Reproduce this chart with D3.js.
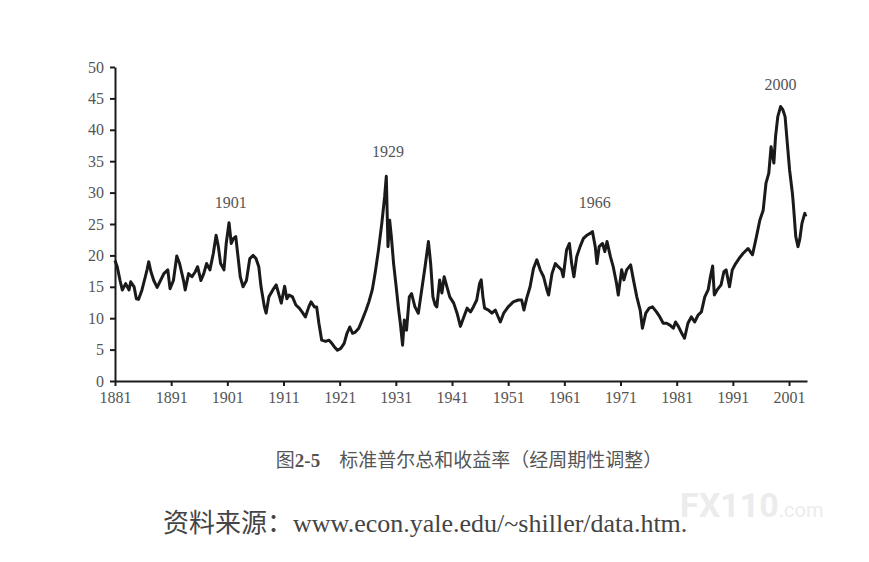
<!DOCTYPE html>
<html>
<head>
<meta charset="utf-8">
<script src="https://cdn.jsdelivr.net/npm/d3@7"></script>
<style>
  body { margin: 0; background: #fff; }
  svg { display: block; }
</style>
</head>
<body>
<svg id="chart" width="869" height="562"></svg>
<script>
// S&P composite, cyclically adjusted P/E
var years = [
  1881.0, 1881.4, 1881.9, 1882.3, 1882.9, 1883.5, 1883.8, 1884.4, 1884.8, 1885.2,
  1885.8, 1886.4, 1886.7, 1887.0, 1887.4, 1887.9, 1888.5, 1889.1, 1889.7, 1890.4,
  1890.8, 1891.4, 1892.0, 1892.5, 1893.2, 1893.5, 1894.1, 1894.7, 1895.3, 1895.7,
  1896.3, 1896.8, 1897.3, 1897.9, 1898.5, 1899.0, 1899.4, 1899.8, 1900.4, 1900.8,
  1901.3, 1901.7, 1902.1, 1902.5, 1902.9, 1903.3, 1903.8, 1904.4, 1905.0, 1905.6,
  1906.1, 1906.6, 1907.0, 1907.6, 1907.9, 1908.4, 1909.1, 1909.7, 1910.3, 1910.6,
  1911.2, 1911.6, 1912.0, 1912.6, 1913.2, 1913.8, 1914.3, 1914.9, 1915.5, 1915.9,
  1916.5, 1916.9, 1917.3, 1917.8, 1918.5, 1919.1, 1919.6, 1920.0, 1920.6, 1921.2,
  1921.8, 1922.3, 1922.8, 1923.3, 1923.8, 1924.4, 1925.0, 1925.7, 1926.2, 1926.8,
  1927.3, 1927.9, 1928.5, 1929.0, 1929.3, 1929.6, 1929.9, 1930.2, 1930.6, 1931.0,
  1931.5, 1931.8, 1932.2, 1932.5, 1932.9, 1933.4, 1933.8, 1934.4, 1935.0, 1935.6,
  1936.2, 1936.8, 1937.2, 1937.6, 1938.0, 1938.3, 1938.8, 1939.2, 1939.6, 1940.1,
  1940.6, 1941.3, 1941.9, 1942.5, 1943.1, 1943.7, 1944.3, 1944.8, 1945.4, 1945.9,
  1946.2, 1946.5, 1946.8, 1947.5, 1948.1, 1948.7, 1949.6, 1950.2, 1951.0, 1951.9,
  1952.8, 1953.4, 1953.8, 1954.3, 1954.9, 1955.5, 1956.1, 1956.7, 1957.3, 1957.9,
  1958.2, 1958.8, 1959.4, 1959.9, 1960.5, 1960.8, 1961.4, 1961.9, 1962.3, 1962.7,
  1963.2, 1963.8, 1964.4, 1965.0, 1965.6, 1966.0, 1966.5, 1966.8, 1967.2, 1967.8,
  1968.2, 1968.6, 1969.2, 1969.7, 1970.3, 1970.6, 1971.2, 1971.6, 1972.1, 1972.8,
  1973.3, 1973.9, 1974.5, 1974.9, 1975.5, 1976.1, 1976.7, 1977.4, 1978.0, 1978.6,
  1979.2, 1979.8, 1980.4, 1980.8, 1981.3, 1981.9, 1982.4, 1983.0, 1983.6, 1984.2,
  1984.8, 1985.4, 1986.0, 1986.6, 1987.0, 1987.4, 1987.7, 1988.2, 1988.9, 1989.4,
  1989.8, 1990.4, 1990.9, 1991.5, 1992.1, 1992.8, 1993.7, 1994.5, 1995.2, 1995.8,
  1996.4, 1996.9, 1997.4, 1997.8, 1998.3, 1998.6, 1999.0, 1999.5, 1999.9, 2000.3,
  2000.7, 2001.1, 2001.6, 2001.8, 2002.2, 2002.6, 2002.9, 2003.3, 2003.8, 2004.0
];
var peRatios = [
  19.2, 18.2, 16.0, 14.5, 15.5, 14.5, 15.8, 15.0, 13.1, 13.0,
  14.5, 16.6, 17.7, 19.0, 17.4, 16.0, 14.9, 16.0, 17.1, 17.7,
  14.7, 16.0, 19.9, 18.7, 16.0, 14.5, 17.1, 16.6, 17.4, 18.2,
  16.0, 17.1, 18.7, 17.7, 20.3, 23.2, 21.4, 18.7, 17.7, 21.9,
  25.2, 21.9, 22.7, 23.0, 19.8, 16.6, 15.0, 16.0, 19.5, 20.0,
  19.5, 18.2, 15.0, 11.8, 10.8, 13.4, 14.5, 15.3, 13.4, 12.4,
  15.1, 13.1, 13.7, 13.4, 12.1, 11.6, 11.0, 10.2, 11.8, 12.6,
  11.8, 11.8, 9.2, 6.5, 6.3, 6.5, 6.0, 5.5, 4.9, 5.2,
  6.0, 7.6, 8.6, 7.6, 7.8, 8.4, 9.7, 11.3, 12.6, 14.5,
  17.1, 20.8, 25.1, 29.3, 32.6, 21.4, 25.6, 23.0, 18.7, 15.5,
  11.3, 9.2, 5.7, 9.7, 8.1, 13.4, 13.9, 11.8, 10.8, 14.5,
  18.2, 22.2, 18.7, 13.4, 12.1, 11.8, 16.1, 14.0, 16.6, 15.0,
  13.4, 12.4, 10.8, 8.7, 10.2, 11.6, 11.0, 11.8, 12.9, 15.5,
  16.1, 13.4, 11.6, 11.3, 10.8, 11.3, 9.4, 10.8, 11.8, 12.6,
  12.9, 12.9, 11.3, 13.2, 15.0, 17.9, 19.3, 17.7, 16.6, 14.5,
  13.7, 17.1, 18.7, 18.2, 17.7, 16.6, 20.9, 21.9, 18.7, 16.6,
  19.8, 21.4, 22.7, 23.2, 23.5, 23.8, 21.4, 18.7, 21.4, 21.9,
  20.6, 22.2, 19.8, 18.2, 15.5, 13.7, 17.7, 16.1, 17.7, 18.5,
  16.1, 13.4, 11.3, 8.4, 10.8, 11.6, 11.8, 11.0, 10.2, 9.2,
  9.2, 8.9, 8.4, 9.4, 8.7, 7.6, 6.8, 9.2, 10.2, 9.4,
  10.5, 11.0, 13.4, 14.5, 16.6, 18.3, 13.7, 14.5, 15.3, 17.4,
  17.7, 15.0, 17.7, 18.7, 19.5, 20.3, 21.1, 20.1, 23.0, 25.6,
  27.2, 31.5, 33.1, 37.3, 34.7, 38.9, 42.1, 43.7, 43.2, 42.1,
  37.8, 33.6, 29.9, 27.8, 23.0, 21.4, 22.5, 25.1, 26.7, 26.2
];

var yearTicks = [1881, 1891, 1901, 1911, 1921, 1931, 1941, 1951, 1961, 1971, 1981, 1991, 2001];
var valueTicks = [0, 5, 10, 15, 20, 25, 30, 35, 40, 45, 50];

// peak annotations, placed in data units
var peakLabels = ['1901', '1929', '1966', '2000'];
var peakLabelYears = [1901.6, 1929.6, 1966.4, 1999.5];
var peakLabelValues = [28.5, 36.5, 28.5, 47.3];

var figNo = '图';
var figNum = '2-5';
var figTitle = '　标准普尔总和收益率（经周期性调整）';
var sourceLabel = '资料来源：';
var sourceUrl = 'www.econ.yale.edu/~shiller/data.htm.';

var svg = d3.select('#chart');

var x = d3.scaleLinear().domain([1881, 2004.2]).range([115, 807]);
var y = d3.scaleLinear().domain([0, 50]).range([381, 67]);

var tickFont = '"Liberation Serif", serif';
var cjkFont = '"Noto Sans CJK SC", sans-serif';

// y axis
var yAxis = svg.append('g')
    .attr('transform', 'translate(' + x(1881) + ',0)')
    .call(d3.axisLeft(y).tickValues(valueTicks).tickSize(5).tickPadding(6).tickSizeOuter(0));

// x axis
var xAxis = svg.append('g')
    .attr('transform', 'translate(0,' + y(0) + ')')
    .call(d3.axisBottom(x).tickValues(yearTicks).tickFormat(d3.format('d')).tickSize(5).tickPadding(6).tickSizeOuter(0));

[yAxis, xAxis].forEach(function (ax) {
    ax.select('.domain').attr('stroke', '#1a1a1a').attr('stroke-width', 2);
    ax.selectAll('.tick line').attr('stroke', '#1a1a1a').attr('stroke-width', 2);
    ax.selectAll('.tick text')
        .attr('fill', '#555')
        .style('font-family', tickFont)
        .style('font-size', '16px');
});

// the series
var data = years.map(function (yr, i) { return { year: yr, value: peRatios[i] }; });

var line = d3.line()
    .x(function (d) { return x(d.year); })
    .y(function (d) { return y(d.value); });

svg.append('path')
    .datum(data)
    .attr('fill', 'none')
    .attr('stroke', '#1a1a1a')
    .attr('stroke-width', 3)
    .attr('stroke-linejoin', 'round')
    .attr('d', line);

// peak labels
svg.selectAll('.peak')
    .data(peakLabels)
    .enter().append('text')
    .attr('class', 'peak')
    .attr('x', function (d, i) { return x(peakLabelYears[i]); })
    .attr('y', function (d, i) { return y(peakLabelValues[i]); })
    .attr('dy', '0.35em')
    .attr('text-anchor', 'middle')
    .attr('fill', '#555')
    .style('font-family', tickFont)
    .style('font-size', '16px')
    .text(function (d) { return d; });

// caption
var cap = svg.append('text')
    .attr('x', 469)
    .attr('y', 467)
    .attr('text-anchor', 'middle')
    .attr('fill', '#555')
    .style('font-size', '19px');
cap.append('tspan').style('font-family', cjkFont).text(figNo);
cap.append('tspan').style('font-family', tickFont).style('font-weight', 700).text(figNum);
cap.append('tspan').style('font-family', cjkFont).text(figTitle);

// source line
var src = svg.append('text')
    .attr('x', 163)
    .attr('y', 532)
    .attr('fill', '#444')
    .style('font-size', '26px');
src.append('tspan')
    .style('font-family', cjkFont)
    .text(sourceLabel);
src.append('tspan')
    .style('font-family', '"Liberation Serif", serif')
    .text(sourceUrl);

// faint watermark
svg.append('text')
    .attr('x', 680)
    .attr('y', 517)
    .attr('fill', '#ececec')
    .style('font-family', 'Roboto, sans-serif')
    .style('font-weight', 700)
    .style('font-size', '34px')
    .text('FX110')
    .append('tspan')
    .style('font-size', '20px')
    .style('font-weight', 400)
    .text('.com');
</script>
</body>
</html>
